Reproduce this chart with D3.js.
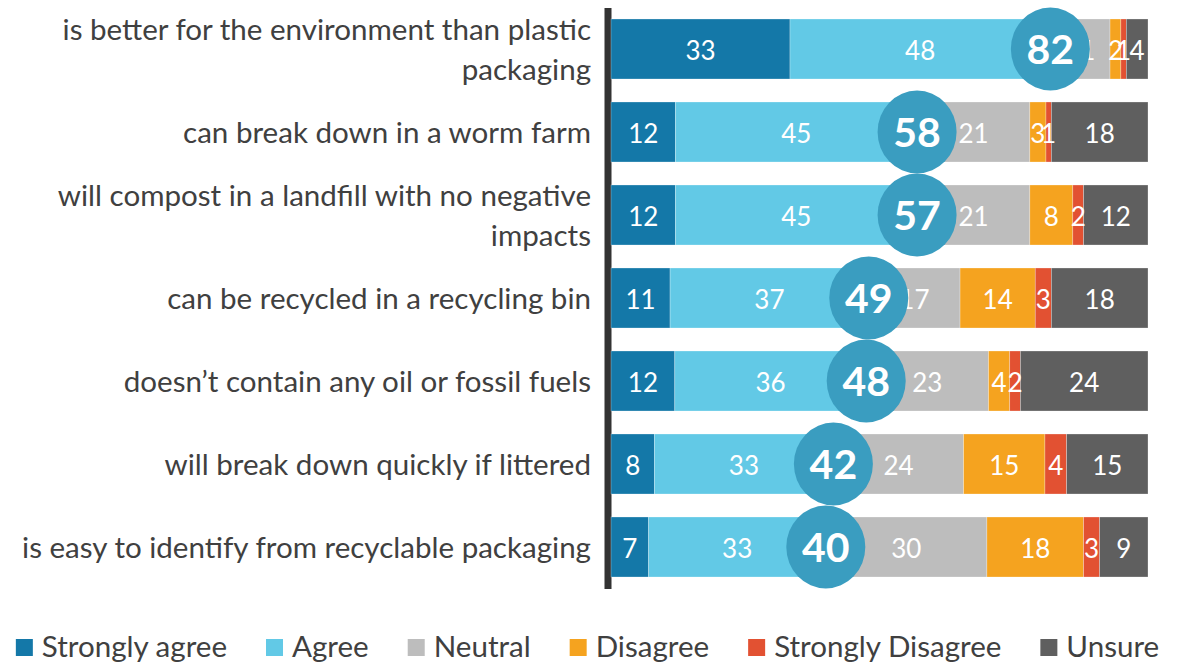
<!DOCTYPE html>
<html>
<head>
<meta charset="utf-8">
<script src="https://cdn.jsdelivr.net/npm/d3@7"></script>
<style>
  html, body { margin: 0; padding: 0; background: #ffffff; }
  svg { display: block; }
</style>
</head>
<body>
<svg id="chart" width="1185" height="662"></svg>
<script>
// Statements about the packaging, top to bottom
const categories = [
  "is better for the environment than plastic packaging",
  "can break down in a worm farm",
  "will compost in a landfill with no negative impacts",
  "can be recycled in a recycling bin",
  "doesn\u2019t contain any oil or fossil fuels",
  "will break down quickly if littered",
  "is easy to identify from recyclable packaging"
];

// Response shares (%) per statement
const stronglyAgree    = [33, 12, 12, 11, 12,  8,  7];
const agree            = [48, 45, 45, 37, 36, 33, 33];
const neutral          = [11, 21, 21, 17, 23, 24, 30];
const disagree         = [ 2,  3,  8, 14,  4, 15, 18];
const stronglyDisagree = [ 1,  1,  2,  3,  2,  4,  3];
const unsure           = [ 4, 18, 12, 18, 24, 15,  9];

// Net agreement (strongly agree + agree) shown in the bubbles
const totalAgree = [82, 58, 57, 49, 48, 42, 40];

const seriesNames  = ["Strongly agree", "Agree", "Neutral", "Disagree", "Strongly Disagree", "Unsure"];
const seriesValues = [stronglyAgree, agree, neutral, disagree, stronglyDisagree, unsure];
const seriesColors = ["#1478a8", "#62c9e6", "#bdbdbd", "#f5a31f", "#e25132", "#5f5f5f"];

const FONT = "Lato, 'Open Sans', sans-serif";
const TEXT_COLOR = "#404040";

const svg = d3.select("#chart");

// Each row is stretched to the full width (shares of the row total)
const rows = categories.map((cat, i) => {
  const vals = seriesValues.map(s => s[i]);
  const sum = d3.sum(vals);
  let acc = 0;
  const segs = vals.map((v, k) => {
    const s = { key: seriesNames[k], value: v, x0: acc / sum, x1: (acc + v) / sum, color: seriesColors[k], cat };
    acc += v;
    return s;
  });
  return { cat, segs, sum, agreeEnd: segs[1].x1, total: totalAgree[i] };
});

const x = d3.scaleLinear().domain([0, 1]).range([611, 1148]);
const y = d3.scaleBand().domain(categories).range([7.5, 588.5])
  .paddingInner(0.277).paddingOuter(0.1385);

// Vertical category axis (thick line only)
const axisG = svg.append("g")
  .attr("transform", "translate(607.5,0)")
  .call(d3.axisLeft(y).tickSize(0).tickSizeOuter(0).tickFormat(""));
axisG.select(".domain").attr("stroke", "#333333").attr("stroke-width", 7);

// Category label font sized so the longest one-line label spans its space
const probe = svg.append("text").style("font-family", FONT).style("font-size", "28px")
  .text(categories[6]);
const probeW = probe.node().getComputedTextLength();
probe.remove();
const catSize = 28 * 569 / probeW;

function measure(str, size, weight) {
  const t = svg.append("text").style("font-family", FONT).style("font-size", size + "px")
    .style("font-weight", weight || "normal").text(str);
  const w = t.node().getComputedTextLength();
  t.remove();
  return w;
}

function wrapLines(str, maxW) {
  const words = str.split(" ");
  const lines = [];
  let line = "";
  words.forEach(w => {
    const test = line ? line + " " + w : w;
    if (line && measure(test, catSize) > maxW) {
      lines.push(line);
      line = w;
    } else {
      line = test;
    }
  });
  if (line) lines.push(line);
  return lines;
}

const labelG = svg.append("g");
categories.forEach(cat => {
  const lines = wrapLines(cat, 580);
  const cy = y(cat) + y.bandwidth() / 2;
  const t = labelG.append("text")
    .attr("text-anchor", "end")
    .style("font-family", FONT)
    .style("font-size", catSize + "px")
    .attr("fill", TEXT_COLOR);
  if (lines.length === 1) {
    t.append("tspan").attr("x", 591).attr("y", cy + 10.5).text(lines[0]);
  } else {
    const gap = 40;
    const mid = cy + 11;
    lines.forEach((ln, j) => {
      t.append("tspan").attr("x", 591)
        .attr("y", mid + (j - (lines.length - 1) / 2) * gap)
        .text(ln);
    });
  }
});

// Stacked segments
const rowG = svg.append("g").selectAll("g.row")
  .data(rows).join("g").attr("class", "row")
  .attr("transform", d => `translate(0,${y(d.cat)})`);

rowG.selectAll("rect")
  .data(d => d.segs)
  .join("rect")
  .attr("x", d => x(d.x0))
  .attr("width", d => x(d.x1) - x(d.x0))
  .attr("y", 0)
  .attr("height", y.bandwidth())
  .attr("fill", d => d.color)
  .attr("stroke", "rgba(255,255,255,0.45)")
  .attr("stroke-width", 0.6);

rowG.selectAll("text.val")
  .data(d => d.segs)
  .join("text")
  .attr("class", "val")
  .attr("x", d => (x(d.x0) + x(d.x1)) / 2)
  .attr("y", y.bandwidth() / 2 + 11.5)
  .attr("text-anchor", "middle")
  .style("font-family", FONT)
  .style("font-size", "26px")
  .attr("fill", "#ffffff")
  .text(d => d.value);

// Net agreement bubbles at the end of the "Agree" segment
const bubble = svg.append("g").selectAll("g.bubble")
  .data(rows).join("g").attr("class", "bubble")
  .attr("transform", d => `translate(${x(d.agreeEnd)},${y(d.cat) + y.bandwidth() / 2})`);

bubble.append("ellipse")
  .attr("rx", 39.5)
  .attr("ry", 41.5)
  .attr("fill", "#3a9dc0");

bubble.append("text")
  .attr("text-anchor", "middle")
  .attr("y", 15)
  .style("font-family", FONT)
  .style("font-size", "41px")
  .style("font-weight", "bold")
  .attr("fill", "#ffffff")
  .text(d => d.total);

// Legend along the bottom, centred
const legendSize = catSize;
const sq = 17, sqText = 9, itemGap = 39;
let lx = 0;
const items = seriesNames.map((name, k) => {
  const w = measure(name, legendSize);
  const it = { name, color: seriesColors[k], x: lx, w };
  lx += sq + sqText + w + itemGap;
  return it;
});
const legendW = lx - itemGap;
const legendX0 = 587.5 - legendW / 2;

const leg = svg.append("g").attr("transform", `translate(${legendX0},0)`);
const li = leg.selectAll("g").data(items).join("g")
  .attr("transform", d => `translate(${d.x},0)`);
li.append("rect")
  .attr("x", 0).attr("y", 639)
  .attr("width", sq).attr("height", sq)
  .attr("fill", d => d.color);
li.append("text")
  .attr("x", sq + sqText)
  .attr("y", 657)
  .style("font-family", FONT)
  .style("font-size", legendSize + "px")
  .attr("fill", TEXT_COLOR)
  .text(d => d.name);
</script>
</body>
</html>
